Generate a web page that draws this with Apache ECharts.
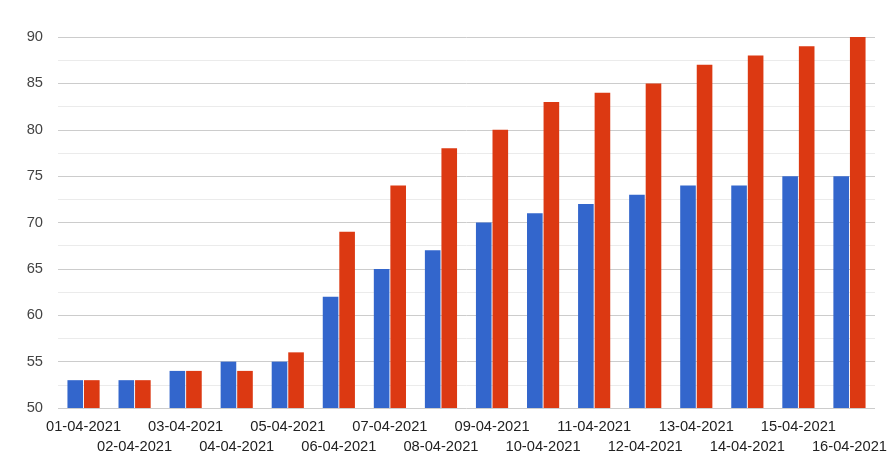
<!DOCTYPE html>
<html>
<head>
<meta charset="utf-8">
<script src="https://cdn.jsdelivr.net/npm/echarts@6/dist/echarts.min.js"></script>
<style>html,body{margin:0;padding:0;background:#fff}#c{width:893px;height:471px}</style>
</head>
<body>
<div id="c"></div>
<script>
var categories = ['01-04-2021','02-04-2021','03-04-2021','04-04-2021','05-04-2021','06-04-2021','07-04-2021','08-04-2021','09-04-2021','10-04-2021','11-04-2021','12-04-2021','13-04-2021','14-04-2021','15-04-2021','16-04-2021'];
var seriesBlue = [53,53,54,55,55,62,65,67,70,71,72,73,74,74,75,75];
var seriesRed = [53,53,54,54,56,69,74,78,80,83,84,85,87,88,89,90];
var yTicks = [50,55,60,65,70,75,80,85,90];

var chart = echarts.init(document.getElementById('c'), null, {renderer:'canvas'});
chart.setOption({
  animation:false,
  backgroundColor:'#ffffff',
  grid:{left:58,right:18,top:37,bottom:63,containLabel:false},
  xAxis:{
    type:'category',
    data:categories,
    axisLine:{show:false},
    axisTick:{show:false},
    axisLabel:{
      interval:0,
      margin:9,
      color:'#222222',
      fontFamily:'Liberation Sans, Arial, sans-serif',
      fontSize:14.7,
      lineHeight:20,
      formatter:function(v,i){return i%2===1 ? '\n'+v : v;}
    }
  },
  yAxis:{
    type:'value',
    min:yTicks[0],
    max:yTicks[yTicks.length-1],
    interval:5,
    axisLine:{show:false},
    axisTick:{show:false},
    axisLabel:{margin:15,color:'#444444',fontFamily:'Liberation Sans, Arial, sans-serif',fontSize:14.7},
    splitLine:{lineStyle:{color:'#cccccc',width:1}},
    minorTick:{show:false,splitNumber:2},
    minorSplitLine:{show:true,lineStyle:{color:'#ebebeb',width:1}}
  },
  series:[
    {type:'bar',data:seriesBlue,itemStyle:{color:'#3366cc'},barGap:'6%',barCategoryGap:'37%'},
    {type:'bar',data:seriesRed,itemStyle:{color:'#dc3912'},barGap:'6%',barCategoryGap:'37%'}
  ]
});
</script>
</body>
</html>
